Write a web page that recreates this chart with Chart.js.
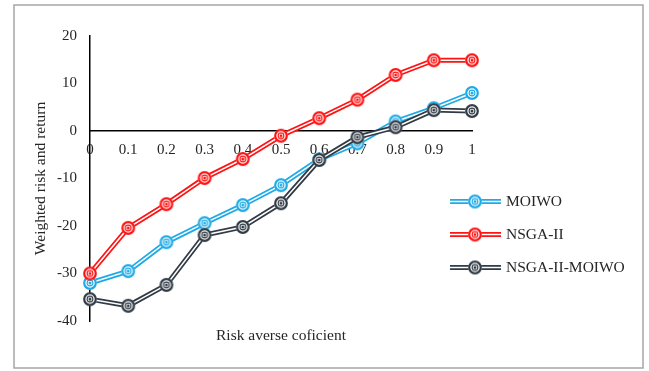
<!DOCTYPE html>
<html>
<head>
<meta charset="utf-8">
<script src="https://cdn.jsdelivr.net/npm/chart.js@4.4.0/dist/chart.umd.min.js"></script>
<style>
  html, body { margin: 0; padding: 0; background: #fff; }
</style>
</head>
<body>
<canvas id="riskChart" width="649" height="371"></canvas>
<script>
// x categories (risk averse coefficient)
const coefficients = ['0', '0.1', '0.2', '0.3', '0.4', '0.5', '0.6', '0.7', '0.8', '0.9', '1'];

// weighted risk and return
const moiwo = [-32, -29.5, -23.4, -19.4, -15.6, -11.4, -6, -2.6, 2, 4.8, 8];
const nsga2 = [-30, -20.4, -15.4, -9.9, -5.9, -1, 2.7, 6.6, 11.8, 14.9, 14.9];
const nsga2Moiwo = [-35.4, -36.8, -32.4, -21.9, -20.2, -15.2, -6.1, -1.3, 0.8, 4.4, 4.2];

const seriesNames = ['MOIWO', 'NSGA-II', 'NSGA-II-MOIWO'];
const seriesData = [moiwo, nsga2, nsga2Moiwo];
const seriesColors = ['#1eaae6', '#ff1212', '#313b45'];

const yMin = -40;
const yMax = 20;
const yStep = 10;

const serif = 'Liberation Serif, Times New Roman, serif';
const textColor = '#262626';

// ring-with-dot marker, like the excel double circle
function makeMarker(color) {
    const c = document.createElement('canvas');
    c.width = 16;
    c.height = 16;
    const g = c.getContext('2d');
    g.fillStyle = '#fff';
    g.beginPath(); g.arc(8, 8, 6.8, 0, Math.PI * 2); g.fill();
    g.strokeStyle = color;
    g.lineWidth = 2.2;
    g.beginPath(); g.arc(8, 8, 5.8, 0, Math.PI * 2); g.stroke();
    g.lineWidth = 1.1;
    g.beginPath(); g.arc(8, 8, 2.9, 0, Math.PI * 2); g.stroke();
    g.fillStyle = color;
    g.beginPath(); g.arc(8, 8, 1.5, 0, Math.PI * 2); g.fill();
    return c;
}

const markers = seriesColors.map(makeMarker);

// every series = thick coloured line + thin white line on top (compound line)
const datasets = [];
seriesNames.forEach((name, i) => {
    const base = (seriesNames.length - 1 - i) * 2;
    datasets.push({
        label: name,
        data: seriesData[i],
        borderColor: seriesColors[i],
        borderWidth: 5,
        pointRadius: 0,
        tension: 0,
        clip: false,
        order: base + 1
    });
    datasets.push({
        label: '',
        data: seriesData[i],
        borderColor: '#fff',
        borderWidth: 1.5,
        pointStyle: markers[i],
        pointRadius: 6,
        tension: 0,
        clip: false,
        order: base
    });
});

const frameAndLegend = {
    id: 'frameAndLegend',
    beforeDraw(chart) {
        const ctx = chart.ctx;
        ctx.save();
        ctx.fillStyle = '#fff';
        ctx.fillRect(0, 0, chart.width, chart.height);
        ctx.strokeStyle = '#a6a6a6';
        ctx.lineWidth = 1.5;
        ctx.strokeRect(14, 5, 629, 363);
        ctx.restore();
    },
    afterDraw(chart) {
        const ctx = chart.ctx;
        ctx.save();
        seriesNames.forEach((name, i) => {
            const y = 201.5 + i * 33;
            ctx.strokeStyle = seriesColors[i];
            ctx.lineWidth = 5;
            ctx.beginPath(); ctx.moveTo(450, y); ctx.lineTo(501, y); ctx.stroke();
            ctx.strokeStyle = '#fff';
            ctx.lineWidth = 1.5;
            ctx.beginPath(); ctx.moveTo(450, y); ctx.lineTo(501, y); ctx.stroke();
            ctx.drawImage(markers[i], 475 - 8, y - 8);
            ctx.fillStyle = textColor;
            ctx.font = '15.5px ' + serif;
            ctx.textBaseline = 'middle';
            ctx.textAlign = 'left';
            ctx.fillText(name, 506, y + 0.5);
        });
        ctx.restore();
    }
};

new Chart(document.getElementById('riskChart'), {
    type: 'line',
    data: {
        labels: coefficients,
        datasets: datasets
    },
    options: {
        responsive: false,
        animation: false,
        devicePixelRatio: 1,
        layout: {
            padding: { left: 26, right: 177, top: 36, bottom: 20 }
        },
        plugins: {
            legend: { display: false },
            tooltip: { enabled: false }
        },
        scales: {
            x: {
                type: 'category',
                position: { y: 0 },
                grid: { display: false, drawTicks: false },
                border: { color: '#000', width: 1.5 },
                ticks: {
                    padding: 10,
                    maxRotation: 0,
                    autoSkip: false,
                    color: textColor,
                    font: { family: serif, size: 15 }
                }
            },
            xTitle: {
                type: 'category',
                axis: 'x',
                position: 'bottom',
                grid: { display: false, drawTicks: false },
                border: { display: false },
                ticks: { display: false },
                title: {
                    display: true,
                    text: 'Risk averse coficient',
                    color: textColor,
                    font: { family: serif, size: 15.5 },
                    padding: { top: 0, bottom: 6 }
                },
                afterFit: s => { s.height = 30; }
            },
            y: {
                min: yMin,
                max: yMax,
                grid: { display: false, drawTicks: false },
                border: { color: '#000', width: 1.5 },
                ticks: {
                    stepSize: yStep,
                    padding: 13,
                    color: textColor,
                    font: { family: serif, size: 15 }
                },
                title: {
                    display: true,
                    text: 'Weighted risk and return',
                    color: textColor,
                    font: { family: serif, size: 15.5 },
                    padding: { top: 6, bottom: 0 }
                },
                afterFit: s => { s.width = 64; }
            }
        }
    },
    plugins: [frameAndLegend]
});
</script>
</body>
</html>
